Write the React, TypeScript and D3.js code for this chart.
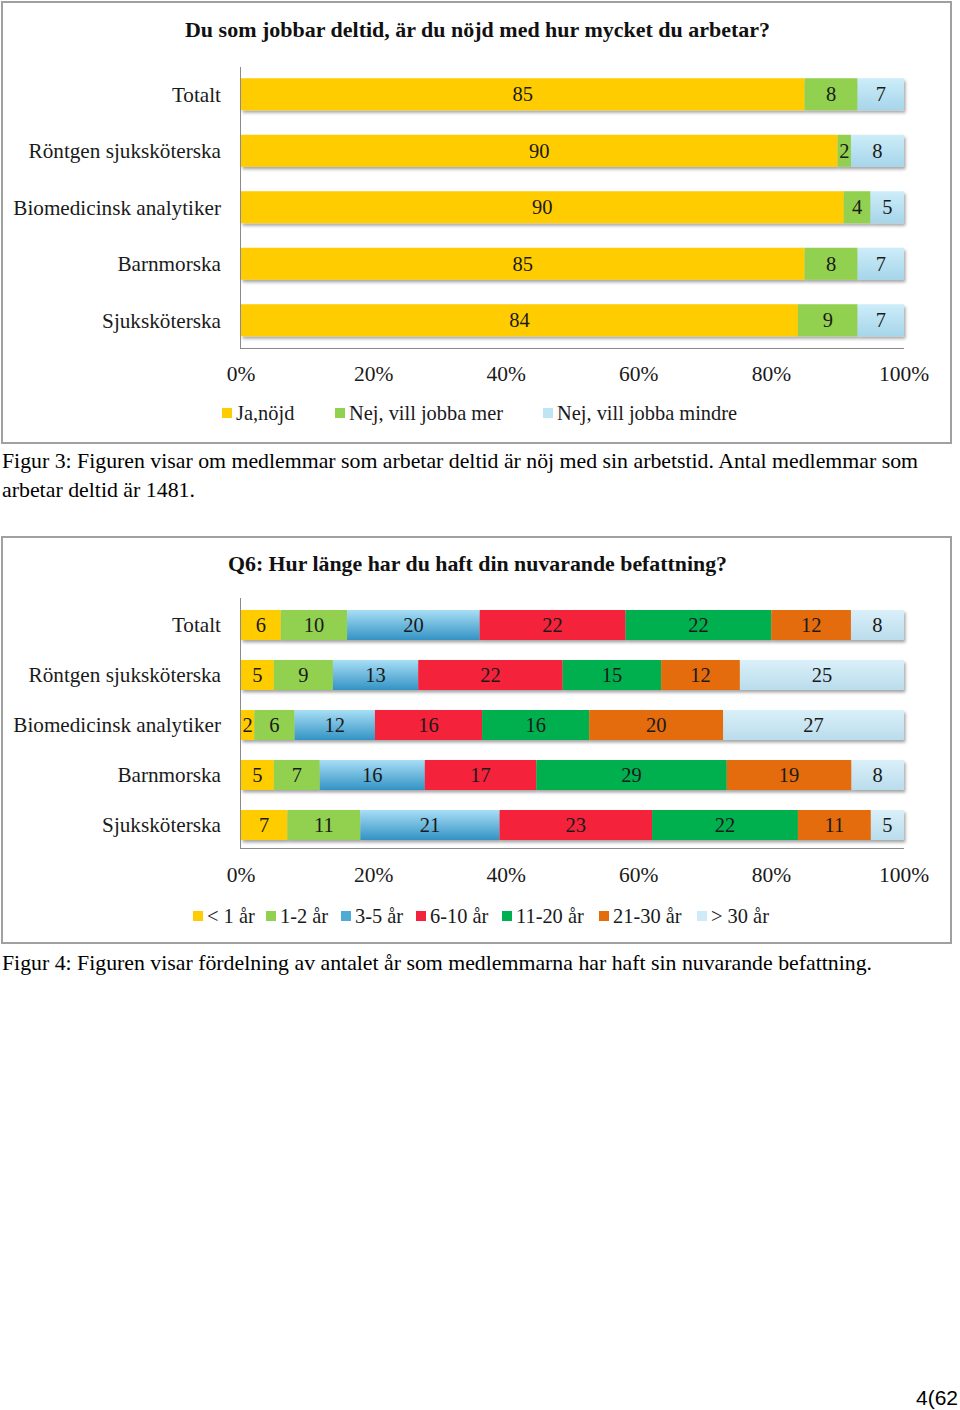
import React from "react";
import * as d3 from "d3";

// ---------- DATA ----------
const categories = [
  "Totalt",
  "Röntgen sjuksköterska",
  "Biomedicinsk analytiker",
  "Barnmorska",
  "Sjuksköterska",
];

const title1 = "Du som jobbar deltid, är du nöjd med hur mycket du arbetar?";
const series1 = ["Ja,nöjd", "Nej, vill jobba mer", "Nej, vill jobba mindre"];
const jaNojd = [85, 90, 90, 85, 84];
const villJobbaMer = [8, 2, 4, 8, 9];
const villJobbaMindre = [7, 8, 5, 7, 7];

const title2 = "Q6: Hur länge har du haft din nuvarande befattning?";
const series2 = ["< 1 år", "1-2 år", "3-5 år", "6-10 år", "11-20 år", "21-30 år", "> 30 år"];
const under1 = [6, 5, 2, 5, 7];
const ar1to2 = [10, 9, 6, 7, 11];
const ar3to5 = [20, 13, 12, 16, 21];
const ar6to10 = [22, 22, 16, 17, 23];
const ar11to20 = [22, 15, 16, 29, 22];
const ar21to30 = [12, 12, 20, 19, 11];
const over30 = [8, 25, 27, 8, 5];

const tickValues = [0, 0.2, 0.4, 0.6, 0.8, 1];
const tickLabels = ["0%", "20%", "40%", "60%", "80%", "100%"];

const caption3a =
  "Figur 3: Figuren visar om medlemmar som arbetar deltid är nöj med sin arbetstid. Antal medlemmar som";
const caption3b = "arbetar deltid är 1481.";
const caption4 =
  "Figur 4: Figuren visar fördelning av antalet år som medlemmarna har haft sin nuvarande befattning.";
const pageNumber = "4(62";

// ---------- STYLE ----------
const chartFont = "'Liberation Serif', 'DejaVu Serif', serif";
const captionFont = "'Liberation Serif', 'Times New Roman', serif";
const fills1 = ["#FFCC00", "#92D050", "url(#gLight1)"];
const fills2 = [
  "#FFCC00",
  "#92D050",
  "url(#gBlue)",
  "#F4223A",
  "#00B050",
  "#E46C0A",
  "url(#gLight2)",
];
const legendSwatch1 = ["#FFCC00", "#92D050", "#BFE4F4"];
const legendSwatch2 = ["#FFCC00", "#92D050", "#4FAAD6", "#F4223A", "#00B050", "#E46C0A", "#D0EBF7"];

type ChartProps = {
  keys: string[];
  values: number[][];
  fills: string[];
  title: string;
  titleX: number;
  titleY: number;
  titleLen: number;
  bandTop: number;
  bandBottom: number;
  barH: number;
  axisTop: number;
  axisBottom: number;
  tickY: number;
  legendY: number;
  legendXs: number[];
  legendSwatch: string[];
};

function StackedChart(p: ChartProps) {
  const x = d3.scaleLinear().domain([0, 1]).range([241, 904]);
  const step = (p.bandBottom - p.bandTop) / categories.length;
  const y = d3
    .scaleBand<string>()
    .domain(categories)
    .range([p.bandTop, p.bandBottom])
    .paddingInner(1 - p.barH / step)
    .paddingOuter((1 - p.barH / step) / 2);

  const rows = categories.map((c, i) => {
    const r: any = { cat: c };
    p.keys.forEach((k, j) => (r[k] = p.values[j][i]));
    return r;
  });
  const stack = d3.stack<any>().keys(p.keys).offset(d3.stackOffsetExpand);
  const layers = stack(rows);

  return (
    <g>
      <text
        x={p.titleX}
        y={p.titleY}
        textLength={p.titleLen}
        lengthAdjust="spacingAndGlyphs"
        fontFamily={chartFont}
        fontWeight="bold"
        fontSize={21}
        fill="#111"
      >
        {p.title}
      </text>
      {/* bars */}
      <g filter="url(#shadow)">
        {layers.map((layer, li) => (
          <g key={li}>
            {layer.map((d, di) => (
              <rect
                key={di}
                x={x(d[0])}
                y={y(categories[di])}
                width={Math.max(0, x(d[1]) - x(d[0]))}
                height={y.bandwidth()}
                fill={p.fills[li]}
              />
            ))}
          </g>
        ))}
      </g>
      {/* labels */}
      {layers.map((layer, li) => (
        <g key={"l" + li}>
          {layer.map((d, di) => (
            <text
              key={di}
              x={(x(d[0]) + x(d[1])) / 2}
              y={(y(categories[di]) as number) + y.bandwidth() / 2}
              dy="0.35em"
              textAnchor="middle"
              fontFamily={chartFont}
              fontSize={20.5}
              fill="#1a1a1a"
            >
              {p.values[li][di]}
            </text>
          ))}
        </g>
      ))}
      {/* axes */}
      <line x1={240.5} x2={240.5} y1={p.axisTop} y2={p.axisBottom} stroke="#8a8a8a" strokeWidth={1} />
      <line x1={240} x2={904} y1={p.axisBottom + 0.5} y2={p.axisBottom + 0.5} stroke="#8a8a8a" strokeWidth={1} />
      {categories.map((c) => (
        <text
          key={c}
          x={221}
          y={(y(c) as number) + y.bandwidth() / 2}
          dy="0.35em"
          textAnchor="end"
          fontFamily={chartFont}
          fontSize={21.2}
          fill="#1a1a1a"
        >
          {c}
        </text>
      ))}
      {tickValues.map((t, i) => (
        <text
          key={i}
          x={x(t)}
          y={p.tickY}
          dy="0.35em"
          textAnchor="middle"
          fontFamily={chartFont}
          fontSize={21.5}
          fill="#1a1a1a"
        >
          {tickLabels[i]}
        </text>
      ))}
      {/* legend */}
      {p.keys.map((k, i) => (
        <g key={k}>
          <rect x={p.legendXs[i]} y={p.legendY - 5} width={10} height={10} fill={p.legendSwatch[i]} />
          <text
            x={p.legendXs[i] + 14}
            y={p.legendY}
            dy="0.35em"
            fontFamily={chartFont}
            fontSize={20.4}
            fill="#1a1a1a"
          >
            {k}
          </text>
        </g>
      ))}
    </g>
  );
}

export default function App() {
  return (
    <svg
      width={960}
      height={1410}
      style={{ position: "absolute", left: 0, top: 0, background: "#fff" }}
    >
      <defs>
        <linearGradient id="gLight1" x1="0" y1="0" x2="0" y2="1">
          <stop offset="0" stopColor="#CDEDF9" />
          <stop offset="1" stopColor="#A6D5EA" />
        </linearGradient>
        <linearGradient id="gBlue" x1="0" y1="0" x2="0" y2="1">
          <stop offset="0" stopColor="#A8DEF6" />
          <stop offset="1" stopColor="#3393C4" />
        </linearGradient>
        <linearGradient id="gLight2" x1="0" y1="0" x2="0" y2="1">
          <stop offset="0" stopColor="#DAF0F9" />
          <stop offset="1" stopColor="#BADCEC" />
        </linearGradient>
        <filter id="shadow" x="-5%" y="-20%" width="110%" height="160%">
          <feDropShadow dx="1.5" dy="2.5" stdDeviation="1.5" floodColor="#000" floodOpacity="0.35" />
        </filter>
      </defs>

      <rect x={2} y={2} width={949} height={441} fill="#fff" stroke="#a0a0a0" strokeWidth={2} />
      <StackedChart
        keys={series1}
        values={[jaNojd, villJobbaMer, villJobbaMindre]}
        fills={fills1}
        title={title1}
        titleX={185}
        titleY={37}
        titleLen={585}
        bandTop={66}
        bandBottom={348.5}
        barH={32}
        axisTop={67}
        axisBottom={348}
        tickY={373}
        legendY={413}
        legendXs={[222, 335, 543]}
        legendSwatch={legendSwatch1}
      />

      <text x={2} y={468} textLength={916} lengthAdjust="spacingAndGlyphs" fontFamily={captionFont} fontSize={21} fill="#000">
        {caption3a}
      </text>
      <text x={2} y={497} textLength={193} lengthAdjust="spacingAndGlyphs" fontFamily={captionFont} fontSize={21} fill="#000">
        {caption3b}
      </text>

      <rect x={2} y={537} width={949} height={406} fill="#fff" stroke="#a0a0a0" strokeWidth={2} />
      <StackedChart
        keys={series2}
        values={[under1, ar1to2, ar3to5, ar6to10, ar11to20, ar21to30, over30]}
        fills={fills2}
        title={title2}
        titleX={228}
        titleY={571}
        titleLen={499}
        bandTop={600}
        bandBottom={850}
        barH={30}
        axisTop={598}
        axisBottom={848}
        tickY={874}
        legendY={916}
        legendXs={[193, 266, 341, 416, 502, 599, 697]}
        legendSwatch={legendSwatch2}
      />

      <text x={2} y={970} textLength={870} lengthAdjust="spacingAndGlyphs" fontFamily={captionFont} fontSize={21} fill="#000">
        {caption4}
      </text>

      <text x={958} y={1405} textAnchor="end" fontFamily="'Liberation Sans', 'Open Sans', sans-serif" fontSize={21} fill="#000">
        {pageNumber}
      </text>
    </svg>
  );
}
